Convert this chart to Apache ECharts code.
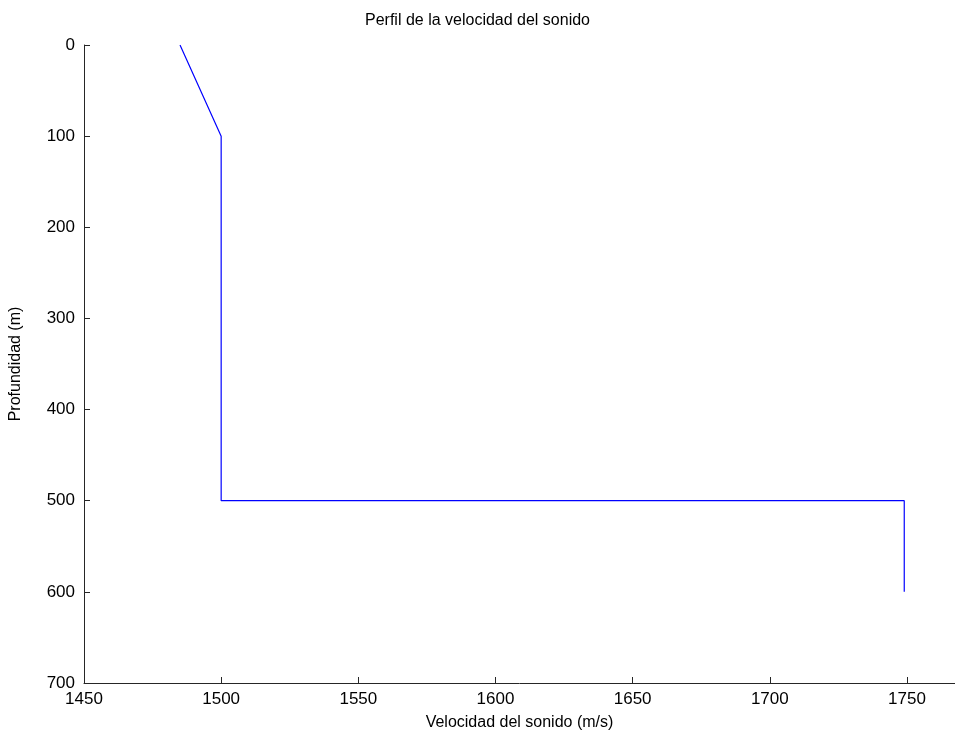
<!DOCTYPE html>
<html><head><meta charset="utf-8">
<script src="https://cdn.jsdelivr.net/npm/echarts@6/dist/echarts.min.js"></script>
<style>html,body{margin:0;padding:0;background:#fff}#c{width:955px;height:744px}</style>
</head><body><div id="c"></div>
<script>
const velocidad = [1485, 1500, 1500, 1749, 1749];
const profundidad = [0, 100, 500, 500, 600];
const xTicks = [1450, 1500, 1550, 1600, 1650, 1700, 1750];
const yTicks = [0, 100, 200, 300, 400, 500, 600, 700];

const font = 'Liberation Sans';
const axisColor = '#262626';
const chart = echarts.init(document.getElementById('c'), null, {renderer: 'canvas'});
chart.setOption({
  animation: false,
  backgroundColor: '#ffffff',
  title: {
    text: 'Perfil de la velocidad del sonido',
    left: 'center', top: 8,
    textStyle: {fontFamily: font, fontSize: 16, fontWeight: 'normal', color: '#000'}
  },
  grid: {left: 84, right: 0, top: 45, bottom: 61, containLabel: false, outerBoundsMode: 'none'},
  xAxis: {
    type: 'value', min: 1450, max: 1767.5, interval: 50, position: 'bottom',
    name: 'Velocidad del sonido (m/s)', nameLocation: 'middle', nameGap: 32,
    nameTextStyle: {fontFamily: font, fontSize: 16, color: '#000'},
    axisLine: {show: true, onZero: false, lineStyle: {color: axisColor, width: 1}},
    axisTick: {show: true, inside: true, length: 6, lineStyle: {color: axisColor}},
    axisLabel: {fontFamily: font, fontSize: 17, color: '#000', margin: 8,
      showMaxLabel: false,
      formatter: v => xTicks.includes(v) ? String(v) : ''},
    splitLine: {show: false}
  },
  yAxis: {
    type: 'value', min: 0, max: 700, interval: 100, inverse: true, position: 'left',
    name: 'Profundidad (m)', nameLocation: 'middle', nameGap: 60,
    nameTextStyle: {fontFamily: font, fontSize: 16, color: '#000'},
    axisLine: {show: true, onZero: false, lineStyle: {color: axisColor, width: 1}},
    axisTick: {show: true, inside: true, length: 6, lineStyle: {color: axisColor}},
    axisLabel: {fontFamily: font, fontSize: 17, color: '#000', margin: 9,
      formatter: v => yTicks.includes(v) ? String(v) : ''},
    splitLine: {show: false}
  },
  series: [{
    type: 'line',
    data: velocidad.map((v, i) => [v, profundidad[i]]),
    showSymbol: false, symbol: 'none',
    lineStyle: {color: '#0000ff', width: 1.2},
    itemStyle: {color: '#0000ff'}
  }]
});
</script></body></html>
